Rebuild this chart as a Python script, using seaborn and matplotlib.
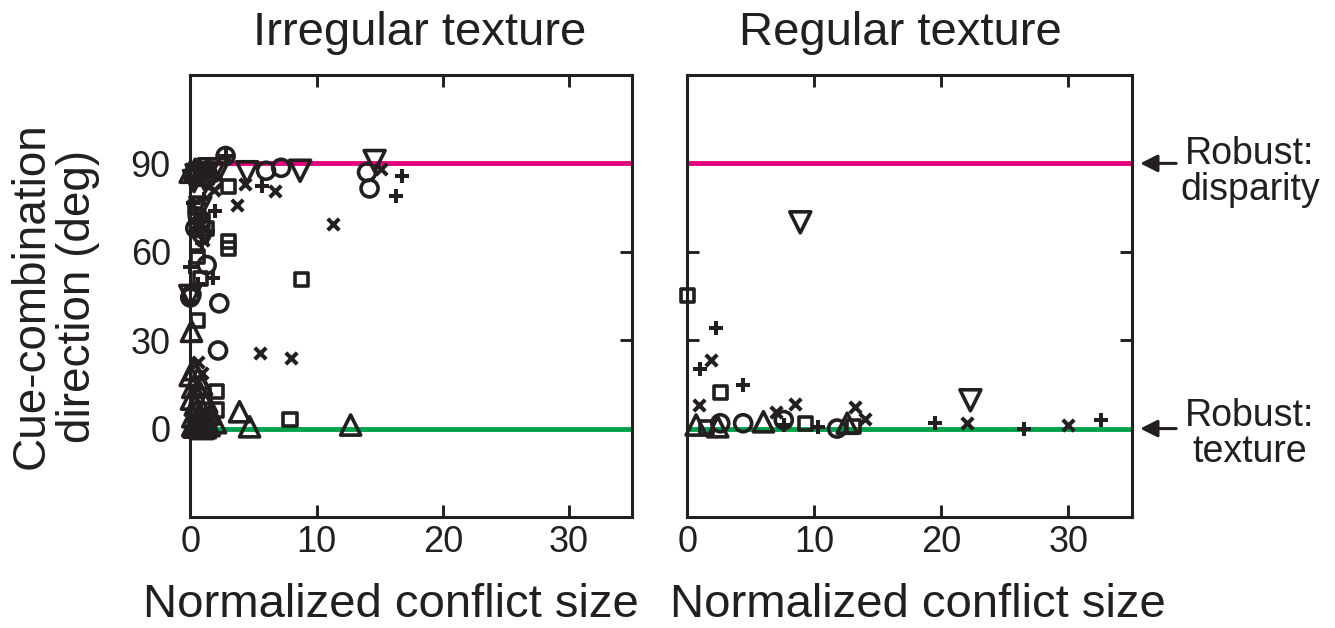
import numpy as np
import pandas as pd
import matplotlib
matplotlib.use("Agg")
import matplotlib.pyplot as plt
import seaborn as sns

# ---------------- data ----------------
panel_titles = ["Irregular texture", "Regular texture"]
x_label = "Normalized conflict size"
y_label = "Cue-combination\ndirection (deg)"
x_ticks = [0, 10, 20, 30]
y_ticks = [0, 30, 60, 90]
disparity_level = 90
texture_level = 0

# Irregular texture panel
irr_circle_x = [2.8, 6.0, 7.2, 14.0, 14.2, 2.3, 2.2, 1.3, 0.0, 0.4, 1.0, 0.6, 1.8, 0.9, 0.1]
irr_circle_y = [92.5, 87.5, 88.5, 87.0, 81.5, 42.5, 26.5, 55.5, 44.5, 68.0, 87.0, 72.0, 84.0, 66.0, 45.5]
irr_square_x = [3.0, 3.0, 3.0, 8.8, 2.1, 2.1, 7.9, 0.6, 0.8, 0.5, 1.3, 1.5, 0.3, 1.0, 0.6, 0.4, 1.0]
irr_square_y = [82.0, 63.5, 61.0, 50.5, 12.5, 6.3, 3.0, 36.7, 51.0, 72.0, 68.0, 3.0, 86.5, 87.5, 58.5, 75.0, 70.5]
irr_tri_up_x = [0.0, 0.4, 0.1, 3.9, 4.7, 12.7, 0.3, 0.6, 0.2, 0.8, 0.4, 1.0, 0.2, 0.7, 1.2, 1.5, 2.0,
                0.3, 1.0, 0.0, 0.5, 0.1, 0.5, 0.9, 1.3, 0.6, 1.6, 0.2, 1.2, 0.9, 0.8, 1.3]
irr_tri_up_y = [87.0, 88.0, 33.0, 5.7, 0.6, 1.2, 20.0, 17.0, 14.0, 12.0, 8.0, 6.0, 4.0, 2.0, 3.5, 1.0, 2.0,
                0.5, 0.0, 18.0, 1.0, 10.0, 6.0, 15.0, 9.0, 4.0, 5.0, 1.0, 0.3, 2.5, 86.0, 87.5]
irr_tri_down_x = [4.5, 8.7, 14.6, 0.5, 1.2, 1.8, 2.3, 0.0, 0.8, 1.5, 0.3, 1.0]
irr_tri_down_y = [87.0, 87.5, 90.8, 86.0, 84.0, 86.5, 88.0, 45.0, 75.0, 88.0, 84.0, 86.5]
irr_plus_x = [2.8, 5.7, 16.8, 16.3, 0.2, 2.0, 1.8, 0.6, 0.0, 0.9, 0.5, 1.0, 1.4, 0.5, 1.3, 0.4, 1.1]
irr_plus_y = [92.5, 82.3, 85.7, 79.0, 76.7, 74.0, 51.0, 49.0, 55.0, 63.0, 3.0, 0.5, 67.0, 68.0, 88.0, 71.0, 78.0]
irr_cross_x = [3.7, 4.3, 6.7, 15.1, 11.3, 5.5, 8.0, 0.6, 1.2, 0.8, 1.9, 1.0, 0.9]
irr_cross_y = [76.0, 83.0, 80.6, 88.0, 69.5, 25.5, 24.0, 22.6, 85.0, 72.0, 81.0, 64.0, 19.0]

# Regular texture panel
reg_circle_x = [2.6, 4.4, 7.6, 11.8]
reg_circle_y = [1.8, 1.8, 2.9, 0.0]
reg_square_x = [0.0, 2.6, 9.3, 13.1, 1.5]
reg_square_y = [45.0, 12.4, 1.8, 0.6, 0.5]
reg_tri_up_x = [0.7, 2.4, 6.0, 12.6]
reg_tri_up_y = [1.2, 0.6, 2.3, 1.8]
reg_tri_down_x = [8.9, 22.3]
reg_tri_down_y = [70.0, 9.6]
reg_plus_x = [2.3, 1.0, 4.4, 7.6, 10.3, 19.5, 26.5, 32.6]
reg_plus_y = [34.0, 20.3, 14.7, 1.2, 0.6, 1.8, 0.0, 2.9]
reg_cross_x = [1.9, 0.9, 7.0, 8.5, 13.2, 14.0, 22.0, 30.0]
reg_cross_y = [23.2, 7.9, 5.7, 8.5, 7.4, 3.4, 1.8, 1.2]

panels = [
    {
        "circle": (irr_circle_x, irr_circle_y),
        "square": (irr_square_x, irr_square_y),
        "tri_up": (irr_tri_up_x, irr_tri_up_y),
        "tri_down": (irr_tri_down_x, irr_tri_down_y),
        "plus": (irr_plus_x, irr_plus_y),
        "cross": (irr_cross_x, irr_cross_y),
    },
    {
        "circle": (reg_circle_x, reg_circle_y),
        "square": (reg_square_x, reg_square_y),
        "tri_up": (reg_tri_up_x, reg_tri_up_y),
        "tri_down": (reg_tri_down_x, reg_tri_down_y),
        "plus": (reg_plus_x, reg_plus_y),
        "cross": (reg_cross_x, reg_cross_y),
    },
]

# ---------------- style ----------------
marker_style = {
    "circle": dict(marker="o", s=150, hollow=True),
    "square": dict(marker="s", s=88, hollow=True),
    "tri_up": dict(marker="^", s=210, hollow=True),
    "tri_down": dict(marker="v", s=228, hollow=True),
    "plus": dict(marker="+", s=115, hollow=False),
    "cross": dict(marker="x", s=68, hollow=False),
}
MAGENTA = "#E4007C"
GREEN = "#00A14B"
INK = "#231F20"

sns.set_theme(style="ticks")
plt.rcParams["font.family"] = ["Liberation Sans", "DejaVu Sans"]

fig = plt.figure(figsize=(13.35, 6.28), dpi=100)
ax_l = fig.add_axes([0.1425, 0.1768, 0.3311, 0.7038])
ax_r = fig.add_axes([0.5148, 0.1768, 0.3329, 0.7038])
axes = [ax_l, ax_r]

for i, (ax, groups) in enumerate(zip(axes, panels)):
    ax.axhline(disparity_level, color=MAGENTA, lw=3.5, zorder=1)
    ax.axhline(texture_level, color=GREEN, lw=3.5, zorder=1)
    for name, (xs, ys) in groups.items():
        st = marker_style[name]
        df = pd.DataFrame({"x": xs, "y": ys})
        if st["hollow"]:
            sns.scatterplot(data=df, x="x", y="y", ax=ax, marker=st["marker"], s=st["s"],
                            facecolors="none", edgecolor=INK, linewidth=2.6,
                            clip_on=False, zorder=3, legend=False)
        else:
            sns.scatterplot(data=df, x="x", y="y", ax=ax, marker=st["marker"], s=st["s"],
                            color=INK, linewidth=2.9, clip_on=False, zorder=3, legend=False)

    ax.set_xlim(0, 35)
    ax.set_ylim(-30, 120)
    ax.set_xticks(x_ticks)
    ax.set_yticks(y_ticks)
    ax.tick_params(direction="in", length=8.5, width=2.1, color=INK,
                   top=True, right=True, labelsize=26, labelcolor=INK)
    ax.tick_params(axis="x", pad=6)
    ax.tick_params(axis="y", pad=14)
    for sp in ax.spines.values():
        sp.set_linewidth(2.2)
        sp.set_color(INK)
        sp.set_visible(True)
    ax.set_xlabel(x_label, fontsize=34, color=INK)
    ax.set_ylabel("")

ax_r.tick_params(axis="y", labelleft=False)
ax_l.set_ylabel(y_label, fontsize=33, color=INK, linespacing=1.05)
ax_l.yaxis.set_label_coords(-0.205, 0.5)
ax_l.xaxis.set_label_coords(0.455, -0.15)
ax_r.xaxis.set_label_coords(0.519, -0.15)

# panel titles
fig.text(420 / 1335, 1 - 33 / 628, panel_titles[0], fontsize=34, ha="center", va="center", color=INK)
fig.text(900 / 1335, 1 - 33 / 628, panel_titles[1], fontsize=34, ha="center", va="center", color=INK)

# side annotations for the two reference lines
side_notes = [("Robust:\ndisparity", disparity_level), ("Robust:\ntexture", texture_level)]
for text, level in side_notes:
    ax_r.annotate("", xy=(1.019, level), xycoords=ax_r.get_yaxis_transform(),
                  xytext=(1.10, level), textcoords=ax_r.get_yaxis_transform(),
                  arrowprops=dict(arrowstyle="-|>", color=INK, lw=2.2, mutation_scale=26,
                                  shrinkA=0, shrinkB=0),
                  annotation_clip=False)
    ax_r.text(1.266, level + (-3 if level else -2), text, transform=ax_r.get_yaxis_transform(),
              ha="center", va="center", fontsize=27, color=INK, linespacing=1.0, clip_on=False)

fig.savefig("out.png", dpi=100)
